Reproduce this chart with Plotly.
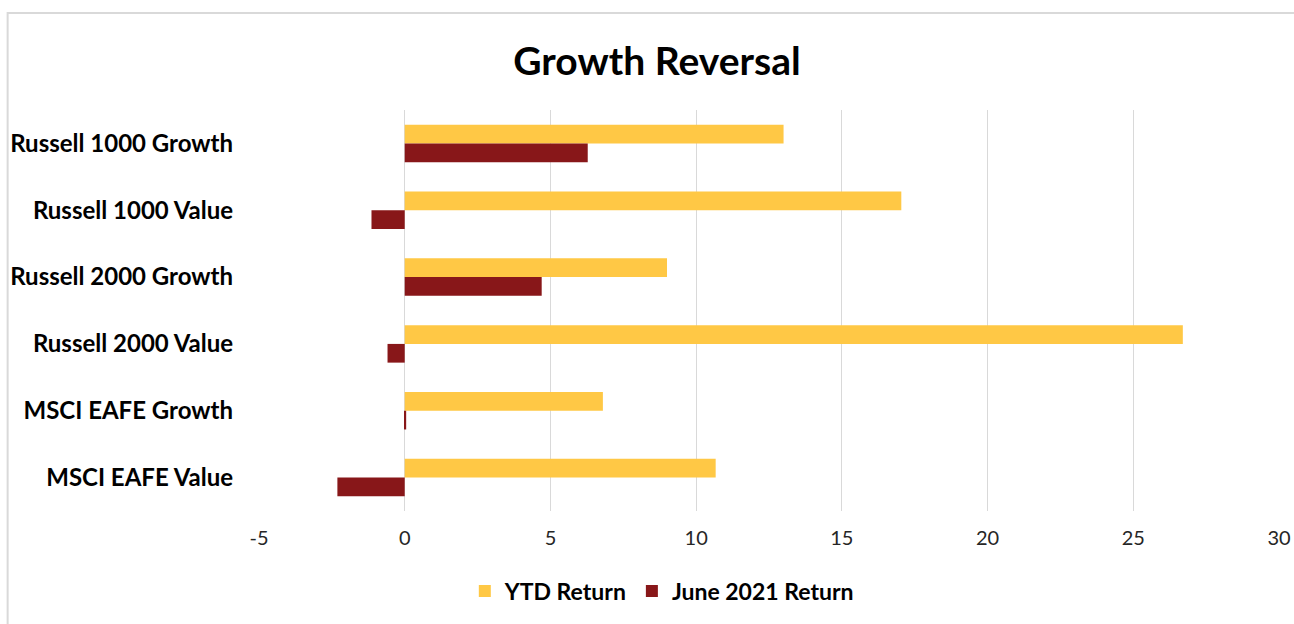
import plotly.graph_objects as go

categories = ["Russell 1000 Growth", "Russell 1000 Value", "Russell 2000 Growth",
              "Russell 2000 Value", "MSCI EAFE Growth", "MSCI EAFE Value"]
ytd_return = [13.0, 17.04, 9.0, 26.7, 6.8, 10.67]
june_return = [6.28, -1.14, 4.70, -0.59, 0.05, -2.31]
x_ticks = [-5, 0, 5, 10, 15, 20, 25, 30]
x_tick_labels = ["-5", "0", "5", "10", "15", "20", "25", "30"]

YELLOW = "#FFC845"
RED = "#881719"
FONT = "Lato"

fig = go.Figure()
fig.add_trace(go.Bar(y=categories, x=ytd_return, orientation="h", name="<b>YTD Return</b>",
                     marker=dict(color=YELLOW, line=dict(width=0))))
fig.add_trace(go.Bar(y=categories, x=june_return, orientation="h", name="<b>June 2021 Return</b>",
                     marker=dict(color=RED, line=dict(width=0))))

W, H = 1294, 624
L, R, T, B = 259.3, 1279, 110, 511

def px(xp):
    return (xp - L) / (R - L)

def py(yp):
    return (B - yp) / (B - T)

fig.update_layout(
    width=W, height=H,
    margin=dict(l=L, r=W - R, t=T, b=H - B, autoexpand=False),
    paper_bgcolor="white", plot_bgcolor="white",
    barmode="group", bargap=0.44, bargroupgap=0,
    font=dict(family=FONT, color="#000000"),
    title=dict(text="<b>Growth Reversal</b>", x=657 / W, xanchor="center",
               y=1 - 61 / H, yanchor="middle",
               font=dict(family=FONT, size=39, color="#000000")),
    xaxis=dict(range=[-5, 30], tickvals=x_ticks, ticktext=x_tick_labels,
               showgrid=True, gridcolor="#D9D9D9",
               gridwidth=1, zeroline=True, zerolinecolor="#D9D9D9", zerolinewidth=1,
               showline=False, ticks="", tickfont=dict(family=FONT, size=20, color="#262626"),
               ticklabelstandoff=13, automargin=False),
    yaxis=dict(autorange="reversed", showgrid=False, showline=False, ticks="",
               tickfont=dict(family=FONT, size=24, color="#000000"),
               ticklabelstandoff=25, tickprefix="<b>", ticksuffix="</b>", automargin=False),
    legend=dict(orientation="h", x=px(662), xanchor="center", y=py(591), yanchor="middle",
                traceorder="normal", font=dict(family=FONT, size=23, color="#000000"),
                itemwidth=30, bgcolor="rgba(0,0,0,0)"),
    showlegend=True,
    shapes=[dict(type="rect", xref="paper", yref="paper",
                 x0=px(8), x1=px(1340), y0=py(660), y1=py(13),
                 line=dict(color="#D9D9D9", width=2), fillcolor="rgba(0,0,0,0)", layer="below")],
)

fig.write_html("out.html", config={"displayModeBar": False},
               post_script="document.body.style.margin='0';document.body.style.padding='0';")
